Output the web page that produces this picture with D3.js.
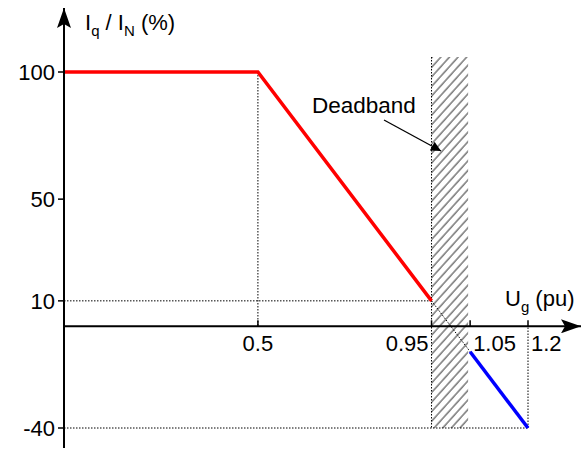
<!DOCTYPE html>
<html lang="en">
  <head>
    <meta charset="utf-8" />
    <title>Iq / IN vs Ug</title>
    <script src="https://d3js.org/d3.v7.min.js"></script>
    <style>
      body { margin: 0; background: #fff; }
      text { font-family: "Liberation Sans", Arial, sans-serif; fill: #000; }
    </style>
  </head>
  <body>
    <div id="my_dataviz"></div>
    <script>
      // data
      const redU = [0, 0.5, 0.95];
      const redI = [100, 100, 10];
      const blueU = [1.05, 1.2];
      const blueI = [-10, -40];
      const deadband = [0.95, 1.05];
      const yTicks = [100, 50, 10, -40];
      const xTicks = [0.5, 0.95, 1.05, 1.2];
      const xTickAnchor = ["middle", "end", "start", "start"];

      const width = 588, height = 451;

      const svg = d3.select("#my_dataviz")
        .append("svg")
          .attr("width", width)
          .attr("height", height);

      const x = d3.scaleLinear().domain([0, 1.2]).range([65, 528]);
      const y = d3.scaleLinear().domain([-40, 100]).range([428, 72]);
      const x0 = 64, y0 = y(0);

      // arrow heads
      const defs = svg.append("defs");
      defs.append("marker")
          .attr("id", "arrow")
          .attr("viewBox", "0 0 10 10")
          .attr("refX", 10).attr("refY", 5)
          .attr("markerWidth", 11).attr("markerHeight", 10)
          .attr("markerUnits", "userSpaceOnUse")
          .attr("orient", "auto")
        .append("path")
          .attr("d", "M0,0 L10,5 L0,10 z")
          .attr("fill", "#000");
      defs.append("marker")
          .attr("id", "axisArrow")
          .attr("viewBox", "0 0 20 14")
          .attr("refX", 20).attr("refY", 7)
          .attr("markerWidth", 20).attr("markerHeight", 14)
          .attr("markerUnits", "userSpaceOnUse")
          .attr("orient", "auto")
        .append("path")
          .attr("d", "M0,0 L20,7 L0,14 L4,7 z")
          .attr("fill", "#000");

      // hatch pattern for the deadband
      const pat = defs.append("pattern")
          .attr("id", "hatch")
          .attr("patternUnits", "userSpaceOnUse")
          .attr("width", 6.4).attr("height", 10)
          .attr("patternTransform", "rotate(42)");
      pat.append("line")
          .attr("x1", 1).attr("y1", 0).attr("x2", 1).attr("y2", 10)
          .attr("stroke", "#555")
          .attr("stroke-width", 1.2);

      svg.append("rect")
          .attr("x", x(deadband[0]))
          .attr("y", 57)
          .attr("width", x(deadband[1]) - x(deadband[0]) - 2)
          .attr("height", y(-40) - 57)
          .attr("fill", "url(#hatch)");

      const dotted = (x1, y1, x2, y2) => svg.append("line")
          .attr("x1", x1).attr("y1", y1).attr("x2", x2).attr("y2", y2)
          .attr("stroke", "#000")
          .attr("stroke-width", 1)
          .attr("stroke-dasharray", "1.5,1.5");

      // helper lines
      dotted(x(0.5), y(100), x(0.5), y0);
      dotted(x0, y(10), x(0.95), y(10));
      dotted(x(deadband[0]), 57, x(deadband[0]), y(-40));
      dotted(x(0.95), y(10), x(1.05), y(-10));
      dotted(x0, y(-40), x(1.2), y(-40));
      dotted(x(1.2), y(-40), x(1.2), y0);

      // axes
      svg.append("line")
          .attr("x1", x0).attr("y1", 448).attr("x2", x0).attr("y2", 8)
          .attr("stroke", "#000").attr("stroke-width", 2)
          .attr("marker-end", "url(#axisArrow)");
      svg.append("line")
          .attr("x1", x0).attr("y1", y0).attr("x2", 581).attr("y2", y0)
          .attr("stroke", "#000").attr("stroke-width", 2)
          .attr("marker-end", "url(#axisArrow)");

      // y ticks
      svg.selectAll(".ytick")
        .data(yTicks)
        .join("line")
          .attr("x1", x0 - 6).attr("x2", x0)
          .attr("y1", d => y(d)).attr("y2", d => y(d))
          .attr("stroke", "#000").attr("stroke-width", 1.5);
      svg.selectAll(".ylab")
        .data(yTicks)
        .join("text")
          .attr("x", x0 - 9)
          .attr("y", d => y(d))
          .attr("dy", "0.36em")
          .attr("text-anchor", "end")
          .style("font-size", "22px")
          .text(d => d);

      // x ticks
      svg.selectAll(".xtick")
        .data(xTicks)
        .join("line")
          .attr("x1", d => x(d)).attr("x2", d => x(d))
          .attr("y1", y0 - 6).attr("y2", y0)
          .attr("stroke", "#000").attr("stroke-width", 1.5);
      svg.selectAll(".xlab")
        .data(xTicks)
        .join("text")
          .attr("x", (d, i) => x(d) + (xTickAnchor[i] === "start" ? 3 : xTickAnchor[i] === "end" ? -3 : 0))
          .attr("y", y0 + 25)
          .attr("text-anchor", (d, i) => xTickAnchor[i])
          .style("font-size", "22px")
          .text(d => d);

      // curves
      const line = d3.line().x(d => x(d[0])).y(d => y(d[1]));
      svg.append("path")
          .datum(d3.zip(redU, redI))
          .attr("d", line)
          .attr("fill", "none")
          .attr("stroke", "#ff0000")
          .attr("stroke-width", 3.5);
      svg.append("path")
          .datum(d3.zip(blueU, blueI))
          .attr("d", line)
          .attr("fill", "none")
          .attr("stroke", "#0000ff")
          .attr("stroke-width", 3.5);

      // deadband label
      svg.append("text")
          .attr("x", 312).attr("y", 113)
          .style("font-size", "22.5px")
          .text("Deadband");
      svg.append("line")
          .attr("x1", 384).attr("y1", 120).attr("x2", 441).attr("y2", 151)
          .attr("stroke", "#000").attr("stroke-width", 1.3)
          .attr("marker-end", "url(#arrow)");

      // axis titles
      const yt = svg.append("text").attr("x", 85).attr("y", 30).style("font-size", "22px");
      yt.append("tspan").text("I");
      yt.append("tspan").attr("dy", 6).style("font-size", "15px").text("q");
      yt.append("tspan").attr("dy", -6).text(" / I");
      yt.append("tspan").attr("dy", 6).style("font-size", "15px").text("N");
      yt.append("tspan").attr("dy", -6).text(" (%)");

      const xt = svg.append("text").attr("x", 505).attr("y", 306).style("font-size", "22px");
      xt.append("tspan").text("U");
      xt.append("tspan").attr("dy", 6).style("font-size", "15px").text("g");
      xt.append("tspan").attr("dy", -6).text(" (pu)");
    </script>
  </body>
</html>
